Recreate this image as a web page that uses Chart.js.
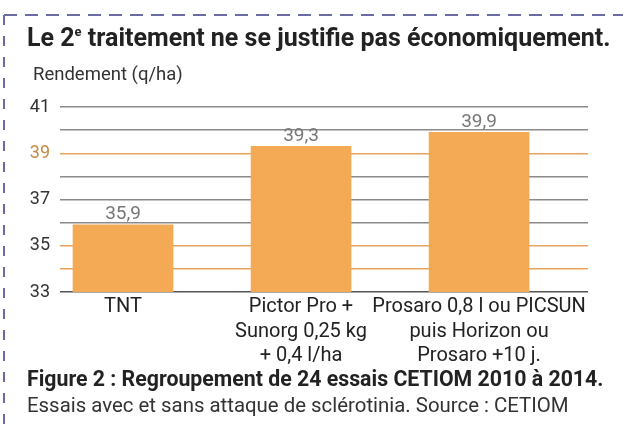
<!DOCTYPE html>
<html>
<head>
<meta charset="utf-8">
<script src="https://cdn.jsdelivr.net/npm/chart.js@4"></script>
<style>
  body { margin: 0; background: #fff; }
  #wrap { position: relative; width: 623px; height: 426px; overflow: hidden; font-family: Roboto, sans-serif; color: #222; }
  #wrap canvas { position: absolute; left: 0; top: 0; }
  .txt { position: absolute; white-space: nowrap; transform-origin: left top; }
  #titre { left: 27px; top: 23px; font-size: 25px; font-weight: bold; }
  #titre sup { font-size: 13px; vertical-align: 10px; }
  #unite { left: 33px; top: 63px; font-size: 18.5px; color: #333; }
  #fig { left: 27px; top: 366px; font-size: 21.3px; font-weight: bold; }
  #source { left: 27px; top: 393px; font-size: 20.4px; color: #333; }
  svg { position: absolute; left: 0; top: 0; }
</style>
</head>
<body>
<div id="wrap">
  <canvas id="myChart" width="623" height="426"></canvas>
  <svg width="623" height="426">
    <line x1="4" y1="15" x2="623" y2="15" stroke="#6b6ba3" stroke-width="2" stroke-dasharray="13 8"/>
    <line x1="4" y1="15" x2="4" y2="426" stroke="#6b6ba3" stroke-width="2" stroke-dasharray="10 11"/>
  </svg>
  <div class="txt" id="titre">Le 2<sup>e</sup> traitement ne se justifie pas économiquement.</div>
  <div class="txt" id="unite">Rendement (q/ha)</div>
  <div class="txt" id="fig">Figure 2 : Regroupement de 24 essais CETIOM 2010 à 2014.</div>
  <div class="txt" id="source">Essais avec et sans attaque de sclérotinia. Source : CETIOM</div>
</div>
<script>
let categories = [
    ["TNT"],
    ["Pictor Pro +", "Sunorg 0,25 kg", "+ 0,4 l/ha"],
    ["Prosaro 0,8 l ou PICSUN", "puis Horizon ou", "Prosaro +10 j."]
]
let rendement = [35.9, 39.3, 39.9]
let valeurLabels = ["35,9", "39,3", "39,9"]
let yTicks = [33, 35, 37, 39, 41]
let orangeLignes = [34, 35, 39]

let orange = "#f4aa55"

// valeurs au-dessus des barres
const valeurPlugin = {
    id: "valeurs",
    afterDatasetsDraw(chart) {
        let ctx = chart.ctx
        let meta = chart.getDatasetMeta(0)
        ctx.save()
        ctx.font = "19px Roboto"
        ctx.fillStyle = "#777"
        ctx.textAlign = "center"
        ctx.textBaseline = "bottom"
        for (let i = 0; i < meta.data.length; i++) {
            let bar = meta.data[i]
            ctx.fillText(valeurLabels[i], bar.x, bar.y - 1)
        }
        ctx.restore()
    }
}

let points = []
for (let i = 0; i < rendement.length; i++) {
    points.push({x: i, y: rendement[i]})
}

let chart = new Chart(document.getElementById("myChart").getContext("2d"), {
    type: "bar",
    data: {
        datasets: [{
            data: points,
            backgroundColor: orange,
            barThickness: 100
        }]
    },
    options: {
        responsive: false,
        animation: false,
        layout: {padding: {top: 107, right: 35, left: 0, bottom: 0}},
        plugins: {legend: {display: false}, tooltip: {enabled: false}},
        scales: {
            x: {
                type: "linear",
                offset: false,
                min: -0.354,
                max: 2.612,
                grid: {display: false},
                border: {display: false},
                afterBuildTicks: function (axis) {
                    axis.ticks = categories.map((c, i) => ({value: i}))
                },
                afterFit: function (axis) { axis.height = 134 },
                ticks: {
                    autoSkip: false,
                    maxRotation: 0,
                    padding: -5,
                    color: "#222",
                    font: {family: "Roboto", size: 20, lineHeight: 1.22},
                    callback: function (v) { return categories[v] }
                }
            },
            y: {
                min: 33,
                max: 41,
                grid: {
                    drawTicks: false,
                    lineWidth: 1.5,
                    color: function (c) {
                        if (c.tick && orangeLignes.includes(c.tick.value)) return "#e9a35c"
                        if (c.tick && c.tick.value === 33) return "#555"
                        return "#8a8a8a"
                    }
                },
                border: {display: false},
                afterFit: function (axis) { axis.width = 60 },
                ticks: {
                    stepSize: 1,
                    autoSkip: false,
                    padding: 10,
                    font: {family: "Roboto", size: 18},
                    color: function (c) { return c.tick.value === 39 ? "#c98a44" : "#333" },
                    callback: function (v) { return yTicks.includes(v) ? "" + v : "" }
                }
            }
        }
    },
    plugins: [valeurPlugin]
})
</script>
</body>
</html>
